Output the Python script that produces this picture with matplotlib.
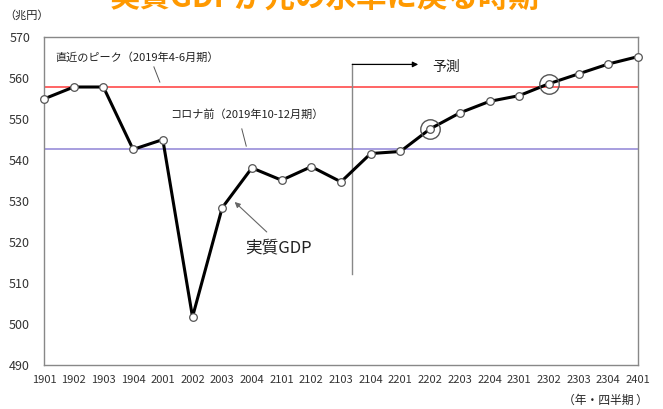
import numpy as np
import matplotlib.pyplot as plt

plt.rcParams['font.family'] = ['Noto Sans CJK JP', 'DejaVu Sans']

# 四半期と実質GDP(兆円)
quarters = ['1901', '1902', '1903', '1904', '2001', '2002', '2003', '2004',
            '2101', '2102', '2103', '2104', '2201', '2202', '2203', '2204',
            '2301', '2302', '2303', '2304', '2401']
gdp = [554.8, 557.7, 557.7, 542.5, 544.9, 501.7, 528.3, 538.0,
       535.0, 538.3, 534.6, 541.5, 542.0, 547.5, 551.4, 554.2,
       555.6, 558.5, 560.9, 563.3, 565.1]
peak_level = 557.7      # 直近のピーク (2019年4-6月期)
pre_covid_level = 542.5  # コロナ前 (2019年10-12月期)
highlight = ['2202', '2302']

x = np.arange(len(quarters))

fig = plt.figure(figsize=(6.63, 4.09), dpi=100)
ax = fig.add_axes([44 / 663, 44 / 409, 594 / 663, 328.5 / 409])

ax.axhline(peak_level, color='#ff3b3b', lw=1.1, zorder=1)
ax.axhline(pre_covid_level, color='#8f84d6', lw=1.1, zorder=1)

ax.plot(x, gdp, color='black', lw=2.2, marker='o', ms=5.5,
        mfc='white', mec='#555555', mew=0.9, clip_on=False, zorder=3)

for q in highlight:
    i = quarters.index(q)
    ax.plot(x[i], gdp[i], marker='o', ms=14, mfc='none', mec='#555555',
            mew=1.0, zorder=4)

# 予測の区切り
ax.plot([10.38, 10.38], [512.2, 563.2], color='#888888', lw=1.0, zorder=2)
ax.annotate('', xy=(12.6, 563.2), xytext=(10.38, 563.2),
            arrowprops=dict(arrowstyle='-|>', color='black', lw=0.9,
                            mutation_scale=8, shrinkA=0, shrinkB=0))
ax.text(13.08, 562.6, '予測', fontsize=10, va='center', ha='left', color='#222222')

# 注記
ax.text(0.37, 564.8, '直近のピーク（2019年4-6月期）', fontsize=8, va='center',
        ha='left', color='#222222')
ax.plot([3.70, 3.90], [562.6, 558.9], color='#555555', lw=0.7)
ax.text(4.24, 550.9, 'コロナ前（2019年10-12月期）', fontsize=8, va='center',
        ha='left', color='#222222')
ax.plot([6.66, 6.81], [547.5, 543.3], color='#555555', lw=0.7)
ax.text(6.76, 518.5, '実質GDP', fontsize=12, va='center', ha='left', color='#222222')
ax.annotate('', xy=(6.42, 529.7), xytext=(7.50, 522.4),
            arrowprops=dict(arrowstyle='-|>', color='#666666', lw=0.8,
                            mutation_scale=8, shrinkA=0, shrinkB=0))

ax.set_xlim(0, 20)
ax.set_ylim(490, 570)
ax.set_xticks(x)
ax.set_xticklabels(quarters)
ax.set_yticks(np.arange(490, 571, 10))
ax.tick_params(axis='x', length=0, pad=7, labelsize=8, labelcolor='#333333')
ax.tick_params(axis='y', length=0, pad=10, labelsize=9, labelcolor='#333333')
for s in ax.spines.values():
    s.set_color('#888888')
    s.set_linewidth(1.0)

fig.text(4 / 663, 1 - 15 / 409, '（兆円）', fontsize=8, va='center', ha='left',
         color='#222222')
fig.text(648 / 663, 1 - 400 / 409, '（年・四半期 ）', fontsize=8.5, va='center',
         ha='right', color='#222222')
fig.text(325 / 663, 1 - 8 / 409, '実質GDPが元の水準に戻る時期', fontsize=22,
         fontweight='bold', color='#ff9900', ha='center', va='baseline')

fig.savefig('out.png', dpi=100)
